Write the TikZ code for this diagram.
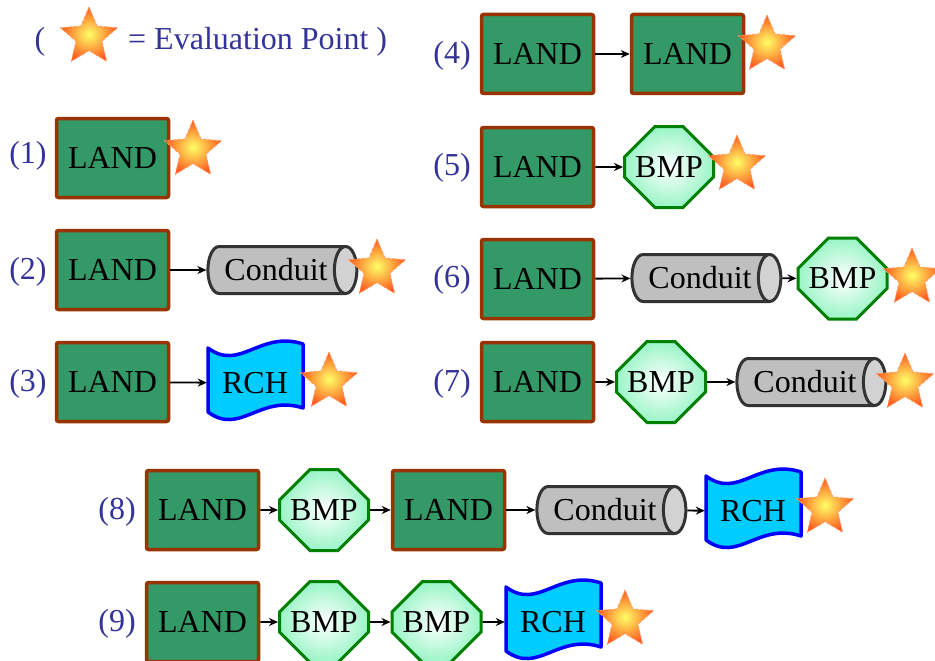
\documentclass[tikz,border=0pt]{standalone}
\usepackage{fontspec}
\setmainfont{Liberation Serif}
\usetikzlibrary{shapes.geometric,shapes.misc,arrows.meta}
\definecolor{landfill}{HTML}{339966}
\definecolor{landline}{HTML}{993300}
\definecolor{bmpline}{HTML}{008000}
\definecolor{bmpout}{HTML}{99F5C6}
\definecolor{condline}{HTML}{333333}
\definecolor{condbody}{HTML}{BFBFBF}
\definecolor{condend}{HTML}{D2D2D2}
\definecolor{rchfill}{HTML}{00CCFF}
\definecolor{rchline}{HTML}{0000FF}
\definecolor{labcol}{HTML}{333399}
\definecolor{starin}{HTML}{FFFF66}
\definecolor{starout}{HTML}{FF5A1E}
\definecolor{starline}{HTML}{FF9966}
\tikzset{
  every node/.style={font=\fontsize{32}{36}\selectfont, inner sep=0pt},
  landbox/.style={draw=landline, fill=landfill, line width=3.5pt, minimum width=112pt, minimum height=79pt, rounded corners=2pt},
  bmpbox/.style={chamfered rectangle, chamfered rectangle xsep=22pt, chamfered rectangle ysep=20pt, draw=bmpline, inner color=white, outer color=bmpout, line width=3pt, minimum width=89pt, minimum height=81pt},
  condbox/.style={cylinder, shape aspect=1.0, draw=condline, line width=3pt, cylinder uses custom fill, cylinder body fill=condbody, cylinder end fill=condend, minimum height=149pt, minimum width=47pt},
  rchbox/.style={minimum width=96pt, minimum height=64pt},
  rchline/.style={draw=rchline, fill=rchfill, line width=3.5pt, line join=round},
  evalstar/.style={star, star points=5, star point ratio=2.2, minimum size=60pt, inner color=starin, outer color=starout, draw=starline, densely dashed, line width=0.8pt},
  lab/.style={text=labcol},
  flow/.style={-{Stealth[length=9pt,width=8pt]}, line width=1.8pt, black},
}
% wavy "RCH" outline centred at (#1,#2)
\newcommand\rchdraw[2]{%
  \filldraw[rchline, shift={(#1,#2)}] (-47,-34) .. controls (-15,-10) and (5,-52) .. (48,-38)
    -- (48,26) .. controls (5,12) and (-15,54) .. (-47,30) -- cycle;}
\begin{document}
\begin{tikzpicture}[x=1pt,y=-1pt]
\useasboundingbox (0,0) rectangle (935,661);
% legend
\node[lab] (lp) at (40,42) {(};
\node[evalstar] (ls) at (89,37) {};
\node[lab, anchor=west] (lt) at (128,42) {= Evaluation Point )};
% row 1
\node[lab] (l1) at (28,156) {(1)};
\node[landbox] (a1) at (112.5,158) {LAND};
\node[evalstar] (s1) at (193,150) {};
% row 2
\node[lab] (l2) at (28,272) {(2)};
\node[landbox] (a2) at (112.5,270) {LAND};
\node[condbox] (c2) at (276,270) {Conduit};
\node[evalstar] (s2) at (377,269) {};
\draw[flow] (a2) -- (c2);
% row 3
\node[lab] (l3) at (28,384) {(3)};
\node[landbox] (a3) at (112.5,382) {LAND};
\rchdraw{255}{382}
\node[rchbox] (r3) at (255,383) {RCH};
\node[evalstar] (s3) at (329,382) {};
\draw[flow] (a3) -- (r3);
% row 4
\node[lab] (l4) at (452,56) {(4)};
\node[landbox] (a4) at (537.5,54) {LAND};
\node[landbox] (b4) at (687.5,54) {LAND};
\node[evalstar] (s4) at (767,45) {};
\draw[flow] (a4) -- (b4);
% row 5
\node[lab] (l5) at (452,168) {(5)};
\node[landbox] (a5) at (537.5,167) {LAND};
\node[bmpbox] (p5) at (669,167) {BMP};
\node[evalstar] (s5) at (737,165) {};
\draw[flow] (a5) -- (p5);
% row 6
\node[lab] (l6) at (452,280) {(6)};
\node[landbox] (a6) at (537.5,279) {LAND};
\node[condbox] (c6) at (700,278) {Conduit};
\node[bmpbox] (p6) at (842.5,278.5) {BMP};
\node[evalstar] (s6) at (912,278) {};
\draw[flow] (a6) -- (c6);
\draw[flow] (c6) -- (p6);
% row 7
\node[lab] (l7) at (452,384) {(7)};
\node[landbox] (a7) at (537.5,382) {LAND};
\node[bmpbox] (p7) at (661,382) {BMP};
\node[condbox] (c7) at (805,382) {Conduit};
\node[evalstar] (s7) at (905,383) {};
\draw[flow] (a7) -- (p7);
\draw[flow] (p7) -- (c7);
% row 8
\node[lab] (l8) at (117,512) {(8)};
\node[landbox] (a8) at (202.5,510) {LAND};
\node[bmpbox] (p8) at (324,510) {BMP};
\node[landbox] (b8) at (448.5,510) {LAND};
\node[condbox] (c8) at (605,510) {Conduit};
\rchdraw{753}{510}
\node[rchbox] (r8) at (753,511) {RCH};
\node[evalstar] (s8) at (825,508) {};
\draw[flow] (a8) -- (p8);
\draw[flow] (p8) -- (b8);
\draw[flow] (b8) -- (c8);
\draw[flow] (c8) -- (r8);
% row 9
\node[lab] (l9) at (117,624) {(9)};
\node[landbox] (a9) at (202.5,622) {LAND};
\node[bmpbox] (p9) at (324,622) {BMP};
\node[bmpbox] (q9) at (436.5,622) {BMP};
\rchdraw{553}{621}
\node[rchbox] (r9) at (553,622) {RCH};
\node[evalstar] (s9) at (625,620) {};
\draw[flow] (a9) -- (p9);
\draw[flow] (p9) -- (q9);
\draw[flow] (q9) -- (r9);
\end{tikzpicture}
\end{document}
